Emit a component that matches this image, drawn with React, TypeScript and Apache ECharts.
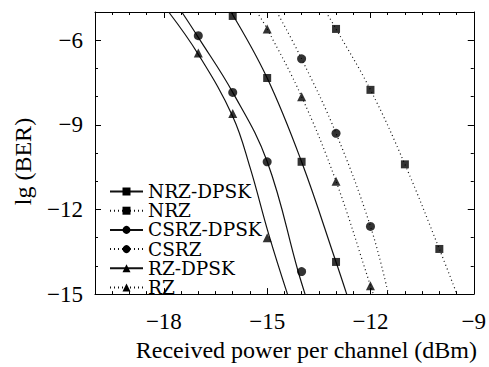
import React, { useEffect, useRef } from "react";
import * as echarts from "echarts";

// Axis tick labels
const xTickLabels = [-18, -15, -12, -9];
const yTickLabels = [-15, -12, -9, -6];

// Series meta
const seriesNames = ["NRZ-DPSK", "NRZ", "CSRZ-DPSK", "CSRZ", "RZ-DPSK", "RZ"];
const seriesSymbols = ["rect", "rect", "circle", "circle", "triangle", "triangle"];
const seriesDotted = [false, true, false, true, false, true];

// Measured points (markers): [received power dBm, lg(BER)]
const nrzDpskPts = [[-16, -5.14], [-15, -7.34], [-14, -10.31], [-13, -13.86]];
const nrzPts = [[-13, -5.6], [-12, -7.76], [-11, -10.4], [-10, -13.4]];
const csrzDpskPts = [[-17, -5.84], [-16, -7.85], [-15, -10.31], [-14, -14.2]];
const csrzPts = [[-14, -6.66], [-13, -9.3], [-12, -12.6]];
const rzDpskPts = [[-17, -6.45], [-16, -8.6], [-15, -13.0]];
const rzPts = [[-15, -5.6], [-14, -8.0], [-13, -11.0], [-12, -14.7]];

// Fitted curves
const nrzDpskFit = [[-16.05, -5], [-15, -7.34], [-14, -10.31], [-13, -13.86], [-12.69, -15]];
const nrzFit = [[-13.29, -5], [-13, -5.6], [-12, -7.76], [-11, -10.4], [-10, -13.4], [-9.49, -15]];
const csrzDpskFit = [[-17.48, -5], [-17, -5.9], [-16, -7.85], [-15, -10.3], [-14.1, -14.2], [-13.9, -15]];
const csrzFit = [[-14.72, -5], [-14, -6.66], [-13, -9.3], [-12, -12.6], [-11.48, -15]];
const rzDpskFit = [[-17.86, -5], [-17, -6.5], [-16, -8.7], [-15.5, -10.5], [-14.95, -12.9], [-14.41, -15]];
const rzFit = [[-15.3, -5], [-15, -5.6], [-14, -8.0], [-13, -11.0], [-12, -14.7], [-11.92, -15]];

const allPts = [nrzDpskPts, nrzPts, csrzDpskPts, csrzPts, rzDpskPts, rzPts];
const allFits = [nrzDpskFit, nrzFit, csrzDpskFit, csrzFit, rzDpskFit, rzFit];

const FONT = "Liberation Serif";
const LEGEND_FONT = "DejaVu Serif";
const minus = (v: number) => String(v).replace("-", "\u2212");

export default function App() {
  const ref = useRef<HTMLDivElement>(null);
  useEffect(() => {
    if (!ref.current) return;
    const chart = echarts.init(ref.current, undefined, { renderer: "svg" });
    const axisLine = { show: true, lineStyle: { color: "#000", width: 1 } };
    const mkX = (pos: string, major: boolean, labels: boolean, extra: any = {}) => ({
      type: "value",
      position: pos,
      min: -20,
      max: -9,
      interval: 0.5,
      axisLine: major ? { show: false } : axisLine,
      splitLine: { show: false },
      axisTick: major
        ? { show: true, inside: true, length: 6, customValues: xTickLabels, lineStyle: { color: "#000" } }
        : { show: true, inside: true, length: 3, lineStyle: { color: "#000" } },
      axisLabel: labels
        ? { show: true, customValues: xTickLabels, formatter: minus, fontFamily: FONT, fontSize: 23, color: "#000", margin: 16 }
        : { show: false },
      ...extra,
    });
    const mkY = (pos: string, major: boolean, labels: boolean, extra: any = {}) => ({
      type: "value",
      position: pos,
      min: -15,
      max: -5,
      interval: 1,
      axisLine: major ? { show: false } : axisLine,
      splitLine: { show: false },
      axisTick: major
        ? { show: true, inside: true, length: 6, customValues: yTickLabels, lineStyle: { color: "#000" } }
        : { show: true, inside: true, length: 3, lineStyle: { color: "#000" } },
      axisLabel: labels
        ? { show: true, customValues: yTickLabels, formatter: minus, fontFamily: FONT, fontSize: 23, color: "#000", margin: 12 }
        : { show: false },
      ...extra,
    });

    const series: any[] = [];
    seriesNames.forEach((name, i) => {
      series.push({
        name,
        type: "line",
        xAxisIndex: 0,
        yAxisIndex: 0,
        data: allFits[i],
        smooth: 0.4,
        symbol: seriesSymbols[i],
        symbolSize: 8,
        showSymbol: false,
        itemStyle: { color: "#000" },
        lineStyle: seriesDotted[i]
          ? { color: "#111", width: 1.2, type: [1, 3] }
          : { color: "#111", width: 1.2 },
        z: 2,
      });
    });
    seriesNames.forEach((name, i) => {
      series.push({
        name: name + " pts",
        type: "scatter",
        xAxisIndex: 0,
        yAxisIndex: 0,
        data: allPts[i],
        symbol: seriesSymbols[i],
        symbolSize: seriesSymbols[i] === "rect" ? 8 : 9,
        itemStyle: { color: "#000" },
        z: 3,
      });
    });

    chart.setOption({
      animation: false,
      backgroundColor: "#fff",
      grid: { left: 95, right: 9, top: 12, bottom: 69, containLabel: false },
      legend: {
        data: seriesNames,
        orient: "vertical",
        left: 104,
        top: 177,
        itemWidth: 33,
        itemHeight: 10,
        itemGap: 0.2,
        textStyle: { fontFamily: LEGEND_FONT, fontSize: 18.5, color: "#000" },
        itemStyle: { color: "#000" },
      },
      xAxis: [
        mkX("bottom", false, true, {
          name: "Received power per channel (dBm)",
          nameLocation: "middle",
          nameGap: 42,
          nameTextStyle: { fontFamily: FONT, fontSize: 24, color: "#000", padding: [0, 0, 0, 44] },
        }),
        mkX("bottom", true, false),
        mkX("top", false, false),
        mkX("top", true, false),
      ],
      yAxis: [
        mkY("left", false, true, {
          name: "lg (BER)",
          nameLocation: "middle",
          nameGap: 60,
          nameTextStyle: { fontFamily: FONT, fontSize: 24, color: "#000", padding: [0, 17, 0, 0] },
        }),
        mkY("left", true, false),
        mkY("right", false, false),
        mkY("right", true, false),
      ],
      series,
    });
    return () => chart.dispose();
  }, []);
  return (
    <div
      ref={ref}
      style={{ position: "fixed", left: 0, top: 0, width: 489, height: 367, background: "#fff" }}
    />
  );
}
